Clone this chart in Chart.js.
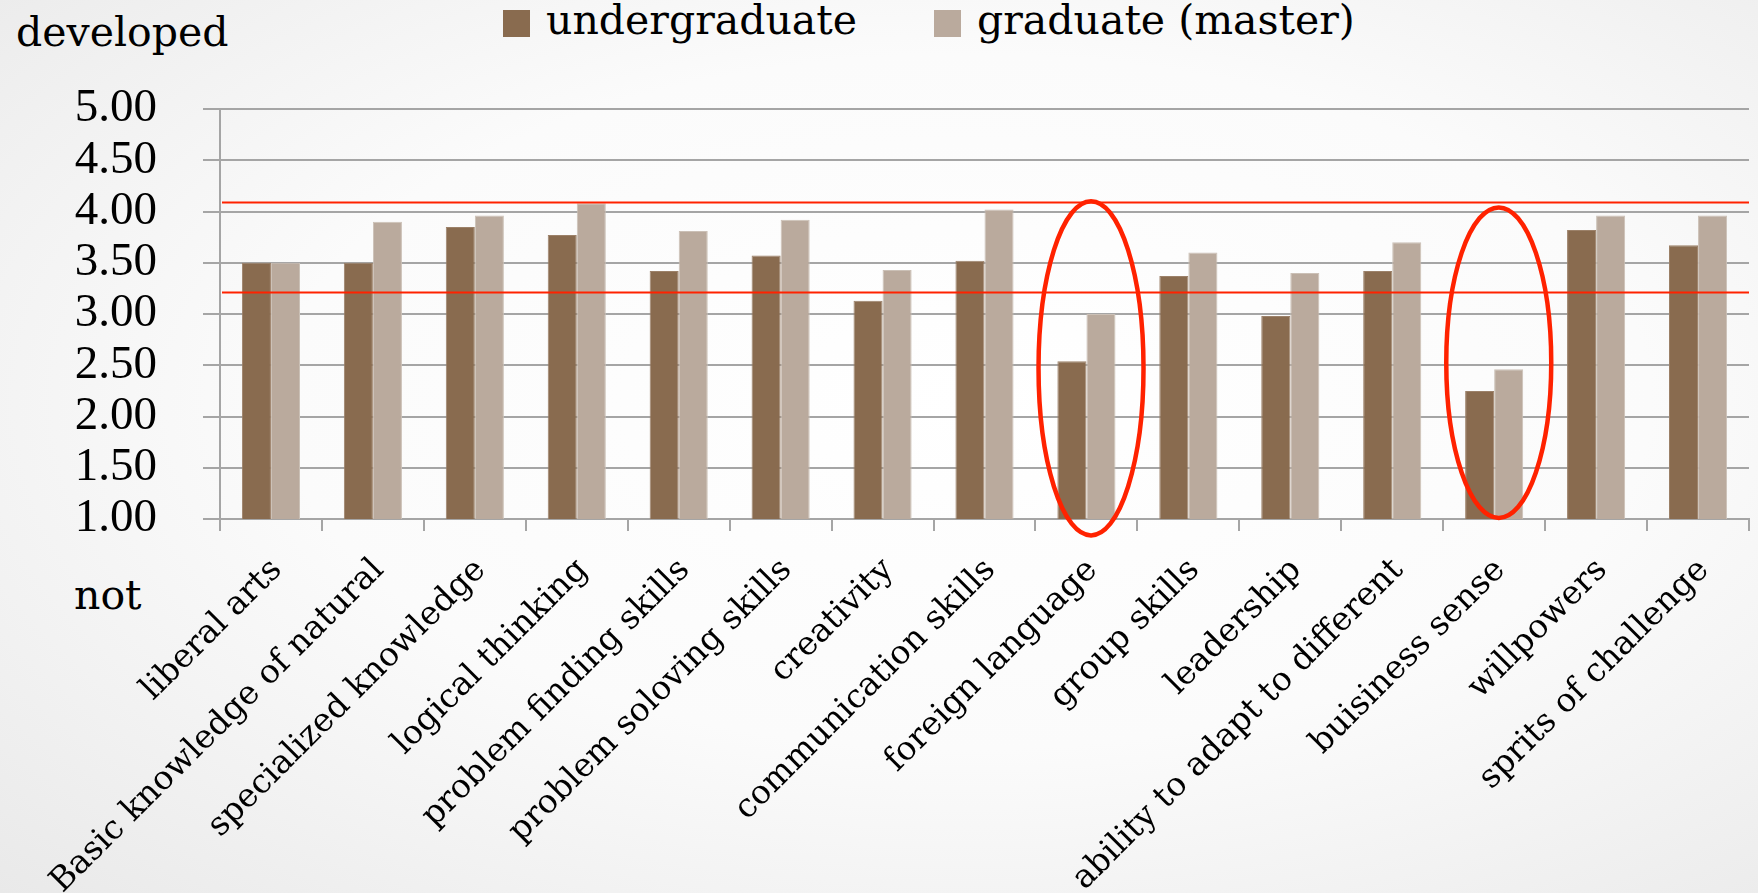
<!DOCTYPE html>
<html lang="en">
<head>
  <meta charset="UTF-8">
  <title>developed / not</title>
  <script src="https://cdn.jsdelivr.net/npm/chart.js"></script>
  <style>
    html, body {
      margin: 0;
      padding: 0;
    }
    body {
      width: 1758px;
      height: 893px;
      overflow: hidden;
      position: relative;
      background: radial-gradient(ellipse at 55% 45%, #ffffff 0%, #fbfbfb 50%, #e9e9e9 100%);
      font-family: "DejaVu Serif", serif;
      color: #000;
    }
    .txt {
      position: absolute;
      font-size: 41px;
      line-height: 1;
      white-space: nowrap;
    }
    #legend .item {
      position: absolute;
      top: 0;
      font-size: 41px;
      line-height: 1;
      white-space: nowrap;
    }
    #legend .box {
      position: absolute;
      width: 27px;
      height: 27px;
    }
    #chartBox {
      position: absolute;
      left: 0;
      top: 0;
    }
  </style>
</head>
<body>
<div class="txt" style="left:16px; top:12px;">developed</div>
<div class="txt" style="left:74px; top:575px;">not</div>
<div id="legend"></div>
<div id="chartBox">
  <canvas id="skillChart" width="1758" height="893"></canvas>
</div>

<script>
  // data
  const categories = [
    "liberal arts",
    "Basic knowledge of natural",
    "specialized knowledge",
    "logical thinking",
    "problem finding skills",
    "problem soloving skills",
    "creativity",
    "communication skills",
    "foreign language",
    "group skills",
    "leadership",
    "ability to adapt to different",
    "buisiness sense",
    "willpowers",
    "sprits of challenge"
  ];
  const undergraduate = [3.50, 3.50, 3.85, 3.77, 3.42, 3.57, 3.13, 3.52, 2.54, 3.37, 2.98, 3.42, 2.25, 3.82, 3.67];
  const graduate      = [3.50, 3.90, 3.96, 4.08, 3.81, 3.92, 3.43, 4.02, 3.00, 3.60, 3.40, 3.70, 2.46, 3.96, 3.96];
  const seriesNames = ["undergraduate", "graduate (master)"];
  const seriesColors = ["#896B4F", "#BAAA9D"];

  const yMin = 1, yMax = 5, yStep = 0.5;

  // red reference lines and the circled categories
  const refLines = [4.09, 3.21];
  const circledCats = [8, 12];
  const circleTop = [4.10, 4.04];
  const circleBottom = [0.84, 1.01];

  const RED = "#FF2200";
  const GRID = "#A5A5A5";

  // legend (html, built from the series)
  const legendPos = [503, 934];
  const legend = document.getElementById("legend");
  seriesNames.forEach((name, i) => {
    const box = document.createElement("div");
    box.className = "box";
    box.style.left = legendPos[i] + "px";
    box.style.top = "10px";
    box.style.background = seriesColors[i];
    legend.appendChild(box);
    const t = document.createElement("div");
    t.className = "item";
    t.style.left = (legendPos[i] + 43) + "px";
    t.textContent = name;
    legend.appendChild(t);
  });

  const markings = {
    id: "markings",
    afterDatasetsDraw(chart) {
      const ctx = chart.ctx;
      const x = chart.scales.x, y = chart.scales.y;
      const area = chart.chartArea;
      ctx.save();
      ctx.strokeStyle = RED;
      ctx.lineWidth = 2;
      refLines.forEach(v => {
        const py = Math.round(y.getPixelForValue(v)) + 0.5;
        ctx.beginPath();
        ctx.moveTo(area.left + 2, py);
        ctx.lineTo(area.right, py);
        ctx.stroke();
      });
      const catW = (area.right - area.left) / categories.length;
      ctx.lineWidth = 4.5;
      circledCats.forEach((c, i) => {
        const cx = x.getPixelForValue(c) + catW * 0.045;
        const top = y.getPixelForValue(circleTop[i]);
        const bot = y.getPixelForValue(circleBottom[i]);
        ctx.beginPath();
        ctx.ellipse(cx, (top + bot) / 2, catW * 0.515, (bot - top) / 2, 0, 0, Math.PI * 2);
        ctx.stroke();
      });
      ctx.restore();
    }
  };

  const ctx = document.getElementById("skillChart").getContext("2d");
  const chart = new Chart(ctx, {
    type: "bar",
    data: {
      labels: categories,
      datasets: [
        {
          label: seriesNames[0],
          data: undergraduate,
          backgroundColor: seriesColors[0],
          borderColor: "#9C8169",
          borderWidth: 1,
          categoryPercentage: 0.57,
          barPercentage: 1.0
        },
        {
          label: seriesNames[1],
          data: graduate,
          backgroundColor: seriesColors[1],
          borderColor: "#CBC0B6",
          borderWidth: 1,
          categoryPercentage: 0.57,
          barPercentage: 1.0
        }
      ]
    },
    options: {
      responsive: false,
      animation: false,
      layout: {
        padding: { top: 109, right: 9, bottom: 0, left: 0 }
      },
      plugins: {
        legend: { display: false },
        tooltip: { enabled: false }
      },
      scales: {
        x: {
          grid: {
            offset: true,
            drawOnChartArea: false,
            color: GRID,
            lineWidth: 2,
            tickLength: 12
          },
          border: { display: true, color: GRID, width: 2 },
          ticks: {
            autoSkip: false,
            maxRotation: 45,
            minRotation: 45,
            padding: 20,
            labelOffset: 6,
            color: "#000",
            font: { family: "DejaVu Serif", size: 33 }
          },
          afterFit(scale) {
            scale.height = 374;
          }
        },
        y: {
          min: yMin,
          max: yMax,
          grid: {
            color: GRID,
            lineWidth: 2,
            tickLength: 17
          },
          border: { display: true, color: GRID, width: 2 },
          ticks: {
            stepSize: yStep,
            autoSkip: false,
            padding: 46,
            color: "#000",
            font: { family: "Liberation Serif", size: 47 },
            callback: v => Number(v).toFixed(2)
          },
          afterFit(scale) {
            scale.width = 220;
          }
        }
      }
    },
    plugins: [markings]
  });
</script>
</body>
</html>
